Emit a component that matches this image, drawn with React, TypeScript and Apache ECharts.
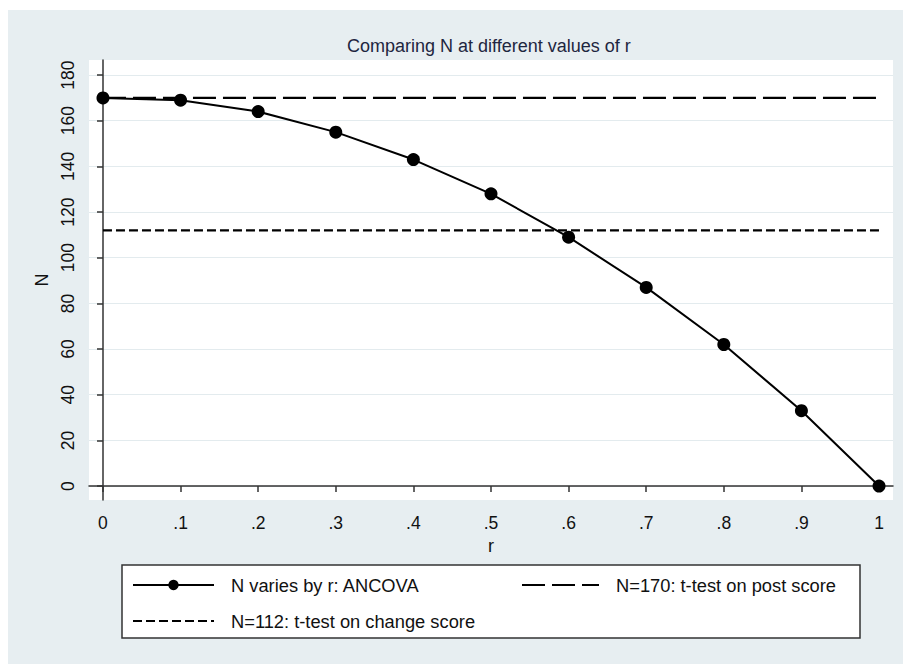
import React, { useEffect, useRef } from "react";
import * as echarts from "echarts";

const rValues = [0, 0.1, 0.2, 0.3, 0.4, 0.5, 0.6, 0.7, 0.8, 0.9, 1];
const nAncova = [170, 169, 164, 155, 143, 128, 109, 87, 62, 33, 0];
const postScoreN = 170;
const changeScoreN = 112;
const yTicks = [0, 20, 40, 60, 80, 100, 120, 140, 160, 180];
const xTicks = [0, 0.1, 0.2, 0.3, 0.4, 0.5, 0.6, 0.7, 0.8, 0.9, 1];
const seriesNames = [
  "N varies by r: ANCOVA",
  "N=170: t-test on post score",
  "N=112: t-test on change score",
];
const titleText = "Comparing N at different values of r";

const FONT = "'Liberation Sans', Arial, sans-serif";
const INK = "#111111";

function fmtX(v: number): string {
  if (v === 0) return "0";
  if (v === 1) return "1";
  return "." + Math.round(v * 10);
}

export default function App() {
  const ref = useRef<HTMLDivElement>(null);
  useEffect(() => {
    if (!ref.current) return;
    const chart = echarts.init(ref.current, undefined, { renderer: "svg" });
    const ancovaData = rValues.map((r, i) => [r, nAncova[i]]);
    const postData = [
      [rValues[0], postScoreN],
      [rValues[rValues.length - 1], postScoreN],
    ];
    const changeData = [
      [rValues[0], changeScoreN],
      [rValues[rValues.length - 1], changeScoreN],
    ];
    const legendText = { fontSize: 18.3, color: INK, fontFamily: FONT, padding: [0, 0, 0, 12] };
    chart.setOption({
      animation: false,
      backgroundColor: "#e7eef1",
      textStyle: { fontFamily: FONT },
      title: {
        text: titleText,
        left: 339,
        top: 27,
        padding: 0,
        textStyle: { fontSize: 18, fontWeight: "normal", color: "#1e2640", fontFamily: FONT },
      },
      grid: { left: 81, top: 50, right: 10, bottom: 164, show: true, backgroundColor: "#ffffff", borderWidth: 0 },
      graphic: [
        {
          type: "rect",
          shape: { x: 114, y: 555, width: 738, height: 73 },
          style: { fill: "#ffffff", stroke: "#333333", lineWidth: 1.5 },
          z: 0,
        },
      ],
      legend: [
        {
          data: [seriesNames[0]],
          left: 124,
          top: 566,
          padding: 0,
          itemWidth: 81,
          itemHeight: 13,
          textStyle: legendText,
        },
        {
          data: [{ name: seriesNames[1], itemStyle: { opacity: 0 } }],
          left: 513,
          top: 566,
          padding: 0,
          itemWidth: 77,
          itemHeight: 13,
          textStyle: legendText,
        },
        {
          data: [{ name: seriesNames[2], itemStyle: { opacity: 0 } }],
          left: 124,
          top: 602,
          padding: 0,
          itemWidth: 81,
          itemHeight: 13,
          textStyle: legendText,
        },
      ],
      xAxis: {
        type: "value",
        min: -0.018,
        max: 1.018,
        name: "r",
        nameLocation: "middle",
        nameGap: 33,
        nameTextStyle: { fontSize: 18, color: INK, fontFamily: FONT },
        axisLine: { show: true, lineStyle: { color: "#333333", width: 1.5 } },
        axisTick: { show: true, length: 6, customValues: xTicks, lineStyle: { color: "#333333", width: 1.5 } },
        axisLabel: {
          customValues: xTicks,
          formatter: (v: number) => fmtX(v),
          fontSize: 17.5,
          color: INK,
          margin: 14,
          fontFamily: FONT,
        },
        splitLine: { show: false },
      },
      yAxis: {
        type: "value",
        min: -6.1,
        max: 186.6,
        name: "N",
        nameLocation: "middle",
        nameRotate: 90,
        nameGap: 36,
        nameTextStyle: { fontSize: 18, color: INK, fontFamily: FONT },
        axisLine: { show: true, lineStyle: { color: "#333333", width: 1.5 } },
        axisTick: { show: true, length: 6, customValues: yTicks, lineStyle: { color: "#333333", width: 1.5 } },
        axisLabel: {
          customValues: yTicks,
          rotate: 90,
          fontSize: 17.5,
          color: INK,
          margin: 12,
          fontFamily: FONT,
        },
        splitLine: { show: true, lineStyle: { color: "#e3ebee", width: 1 } },
      },
      series: [
        {
          name: seriesNames[0],
          type: "line",
          data: ancovaData,
          symbol: "circle",
          symbolSize: 13,
          showSymbol: true,
          lineStyle: { color: "#000000", width: 2 },
          itemStyle: { color: "#000000" },
          z: 5,
        },
        {
          name: seriesNames[1],
          type: "line",
          data: postData,
          symbol: "none",
          lineStyle: { color: "#000000", width: 2.2, type: [23, 7] },
          itemStyle: { color: "#000000" },
          z: 3,
        },
        {
          name: seriesNames[2],
          type: "line",
          data: changeData,
          symbol: "none",
          lineStyle: { color: "#000000", width: 2.2, type: [9, 4] },
          itemStyle: { color: "#000000" },
          z: 3,
        },
      ],
    });
    return () => chart.dispose();
  }, []);
  return (
    <div
      ref={ref}
      style={{ position: "fixed", left: 8, top: 10, width: 895, height: 654 }}
    />
  );
}
